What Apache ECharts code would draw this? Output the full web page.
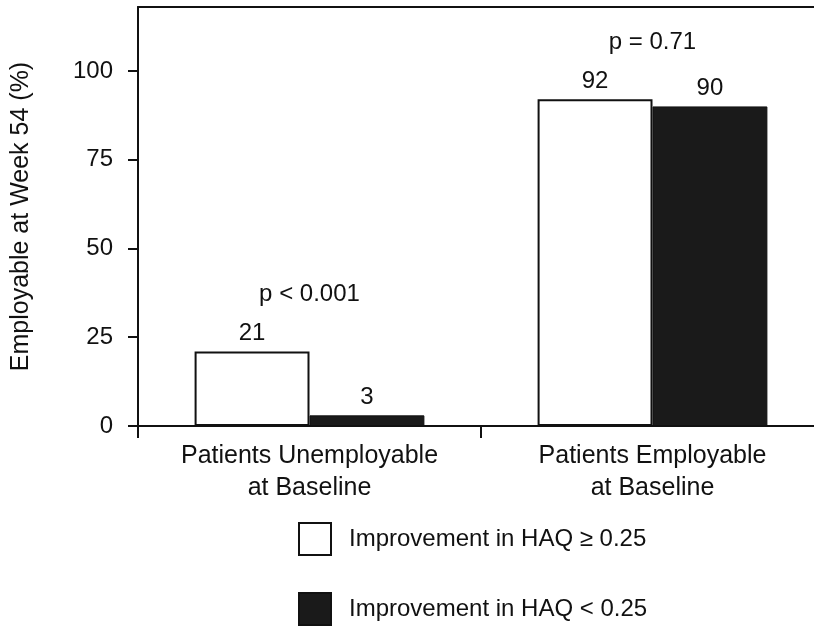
<!DOCTYPE html>
<html>
<head>
<meta charset="utf-8">
<script src="https://cdn.jsdelivr.net/npm/echarts@6/dist/echarts.min.js"></script>
<style>html,body{margin:0;padding:0;background:#fff}#c{width:814px;height:627px}</style>
</head>
<body>
<div id="c"></div>
<script>
var categories = ['Patients Unemployable\nat Baseline', 'Patients Employable\nat Baseline'];
var seriesNames = ['Improvement in HAQ \u2265 0.25', 'Improvement in HAQ < 0.25'];
var improvedValues = [21, 92];
var notImprovedValues = [3, 90];
var pLabels = ['p < 0.001', 'p = 0.71'];
var yTicks = [0, 25, 50, 75, 100];

var FONT = 'Liberation Sans, Arial, Helvetica, sans-serif';
var pData = pLabels.map(function (t, i) {
  return { value: [i, Math.max(improvedValues[i], notImprovedValues[i]) + 16], name: t };
});

var chart = echarts.init(document.getElementById('c'), null, { renderer: 'canvas' });
chart.setOption({
  animation: false,
  backgroundColor: '#fff',
  textStyle: { fontFamily: FONT, color: '#111' },
  grid: { left: 138, top: 7, width: 686, height: 419, show: false, containLabel: false, outerBoundsMode: 'none' },
  legend: {
    data: seriesNames,
    orient: 'vertical',
    left: 298,
    top: 522,
    padding: 0,
    itemWidth: 32,
    itemHeight: 32,
    itemGap: 36,
    icon: 'rect',
    textStyle: { fontSize: 24, fontFamily: FONT, color: '#111', padding: [0, 0, 0, 13] }
  },
  xAxis: [
    {
      type: 'category',
      data: categories,
      axisLine: { lineStyle: { color: '#111', width: 2 } },
      axisTick: { show: true, alignWithLabel: false, interval: 0, length: 12, lineStyle: { color: '#111', width: 2 } },
      axisLabel: { fontSize: 25, fontFamily: FONT, color: '#111', margin: 14, lineHeight: 32, interval: 0 }
    },
    {
      type: 'category',
      position: 'top',
      data: categories,
      axisLine: { show: true, lineStyle: { color: '#111', width: 2 } },
      axisTick: { show: false },
      axisLabel: { show: false }
    }
  ],
  yAxis: {
    type: 'value',
    min: 0,
    max: 118,
    interval: 25,
    name: 'Employable at Week 54 (%)',
    nameLocation: 'middle',
    nameRotate: 90,
    nameGap: 104,
    nameTextStyle: { fontSize: 25, fontFamily: FONT, color: '#111' },
    splitLine: { show: false },
    axisLine: { show: true, lineStyle: { color: '#111', width: 2 } },
    axisTick: { show: true, length: 10, customValues: yTicks, lineStyle: { color: '#111', width: 2 } },
    axisLabel: { fontSize: 24, fontFamily: FONT, color: '#111', margin: 25, customValues: yTicks }
  },
  series: [
    {
      name: seriesNames[0],
      type: 'bar',
      data: improvedValues,
      barGap: '0%',
      barCategoryGap: '33%',
      itemStyle: { color: '#fff', borderColor: '#111', borderWidth: 2 },
      label: { show: true, position: 'top', distance: 6, fontSize: 24, fontFamily: FONT, color: '#111' }
    },
    {
      name: seriesNames[1],
      type: 'bar',
      data: notImprovedValues,
      itemStyle: { color: '#1a1a1a', borderColor: '#111', borderWidth: 1 },
      label: { show: true, position: 'top', distance: 6, fontSize: 24, fontFamily: FONT, color: '#111' }
    },
    {
      name: 'p',
      type: 'scatter',
      data: pData,
      symbolSize: 1,
      silent: true,
      itemStyle: { color: 'rgba(0,0,0,0)', opacity: 1 },
      label: { show: true, position: 'inside', formatter: '{b}', fontSize: 24, fontFamily: FONT, color: '#111', opacity: 1 }
    }
  ]
});
</script>
</body>
</html>
